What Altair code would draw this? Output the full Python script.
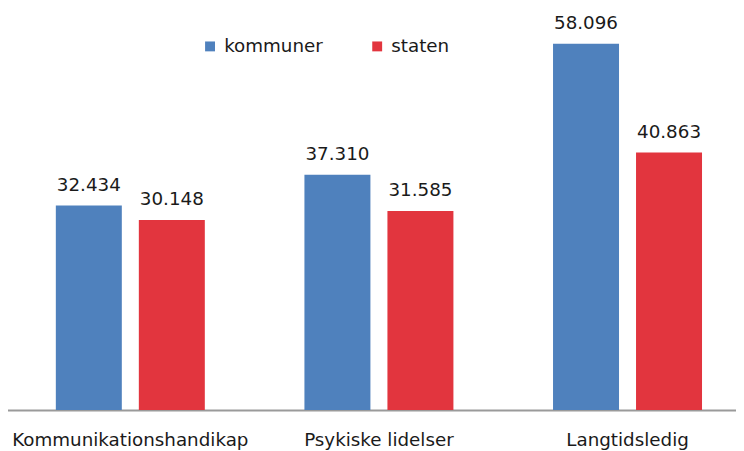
import altair as alt
import pandas as pd

categories = ["Kommunikationshandikap", "Psykiske lidelser", "Langtidsledig"]
series = ["kommuner", "staten"]
kommuner = [32434, 37310, 58096]
staten = [30148, 31585, 40863]
colors = ["#4f81bd", "#e2353e"]

rows = []
for i, c in enumerate(categories):
    rows.append({"category": c, "series": series[0], "value": kommuner[i]})
    rows.append({"category": c, "series": series[1], "value": staten[i]})
df = pd.DataFrame(rows)

FONT = "DejaVu Sans"

base = alt.Chart(df).encode(
    x=alt.X(
        "category:N",
        sort=categories,
        title=None,
        scale=alt.Scale(range=[-2, 752], paddingInner=0, paddingOuter=0),
        axis=alt.Axis(
            labelAngle=0,
            ticks=False,
            domainColor="#9a9a9a",
            domainWidth=2,
            labelFont=FONT,
            labelFontSize=18.5,
            labelColor="#1a1a1a",
            labelBaseline="alphabetic",
            labelPadding=36,
            labelLimit=0,
            grid=False,
        ),
    ),
    xOffset=alt.XOffset(
        "series:N",
        sort=series,
        scale=alt.Scale(paddingInner=0.205, paddingOuter=0.6),
    ),
    y=alt.Y(
        "value:Q",
        scale=alt.Scale(domain=[0, 63400]),
        axis=None,
    ),
)

bars = base.mark_bar().encode(
    color=alt.Color(
        "series:N",
        sort=series,
        scale=alt.Scale(domain=series, range=colors),
        legend=alt.Legend(
            title=None,
            orient="none",
            direction="horizontal",
            legendX=195,
            legendY=27,
            symbolType="square",
            symbolSize=100,
            symbolStrokeWidth=0,
            labelFont=FONT,
            labelFontSize=18.5,
            labelColor="#1a1a1a",
            labelOffset=5,
            columnPadding=45,
            padding=0,
        ),
    )
)

labels = base.transform_calculate(
    label="replace(format(datum.value, ','), ',', '.')"
).mark_text(
    font=FONT,
    fontSize=18.5,
    color="#1a1a1a",
    baseline="alphabetic",
    dy=-15,
).encode(text="label:N")

chart = (
    alt.layer(bars, labels)
    .properties(
        width=736,
        height=404,
        autosize=alt.AutoSizeParams(type="none"),
        padding={"left": 0, "top": 0, "right": 0, "bottom": 43},
    )
    .configure_view(stroke=None)
)

chart.save("out.html", embed_options={"renderer": "svg", "actions": False})
